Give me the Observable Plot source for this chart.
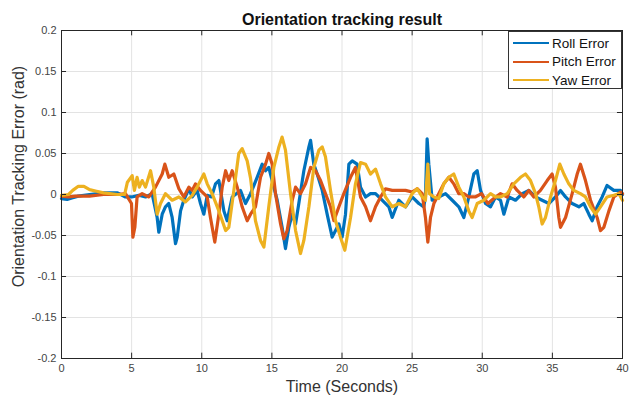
<!DOCTYPE html>
<html>
<head>
<meta charset="utf-8">
<script src="https://cdn.jsdelivr.net/npm/d3@7"></script>
<script src="https://cdn.jsdelivr.net/npm/@observablehq/plot@0.6"></script>
<style>
  body { margin: 0; background: white; }
  #wrap { position: relative; width: 630px; height: 402px; font-family: "Liberation Sans", Arial, sans-serif; }
  #legend { position: absolute; left: 508px; top: 31px; width: 114px; height: 58px; border: 1px solid #333; background: white; box-sizing: border-box; }
  .item { position: absolute; left: 4px; height: 18px; display: flex; align-items: center; font-size: 13.5px; color: #111; }
  .item span.sw { display: inline-block; width: 36px; height: 2px; margin-right: 3px; }
</style>
</head>
<body>
<div id="wrap"></div>
<script>
const title = "Orientation tracking result";
const xLabel = "Time (Seconds)";
const yLabel = "Orientation Tracking Error (rad)";
const xTicks = [0, 5, 10, 15, 20, 25, 30, 35, 40];
const yTicks = [-0.2, -0.15, -0.1, -0.05, 0, 0.05, 0.1, 0.15, 0.2];
const seriesNames = ["Roll Error", "Pitch Error", "Yaw Error"];
const seriesColors = ["#0072BD", "#D95319", "#EDB120"];

// [time (s), error (rad)]
const roll = [[0,-0.005],[0.4,-0.006],[0.8,-0.004],[1.2,-0.002],[2.0,0.0],[3.0,0.002],[4.0,0.002],[4.56,-0.003],[5.0,-0.003],[5.51,-0.001],[5.99,-0.003],[6.46,0.001],[6.82,-0.028],[6.94,-0.046],[7.18,-0.024],[7.41,-0.015],[7.65,-0.011],[7.89,-0.028],[8.13,-0.06],[8.25,-0.052],[8.49,-0.02],[8.72,-0.007],[9.08,0.007],[9.32,-0.003],[9.67,0.005],[9.91,-0.011],[10.15,-0.024],[10.39,-0.001],[10.7,-0.003],[10.98,0.013],[11.22,0.017],[11.58,-0.02],[11.81,-0.032],[12.17,-0.003],[12.76,0.005],[13.12,-0.011],[13.48,0.001],[13.95,0.021],[14.31,0.037],[14.55,0.029],[14.78,0.033],[15.02,0.017],[15.38,-0.007],[15.73,-0.04],[15.97,-0.066],[16.21,-0.04],[16.45,-0.024],[16.69,-0.036],[16.92,-0.011],[17.28,0.029],[17.64,0.058],[17.76,0.066],[17.99,0.037],[18.23,0.025],[18.59,0.005],[18.94,-0.024],[19.3,-0.052],[19.54,-0.044],[19.78,-0.036],[20.01,-0.052],[20.25,-0.024],[20.49,0.037],[20.73,0.041],[21.08,0.037],[21.32,0.009],[21.68,-0.003],[22.03,0.001],[22.39,0.001],[22.86,-0.007],[23.34,-0.015],[23.58,-0.028],[24.05,-0.007],[24.53,-0.015],[25.0,-0.003],[25.48,-0.011],[25.83,-0.015],[25.95,-0.003],[26.07,0.068],[26.19,0.037],[26.43,-0.007],[26.9,-0.003],[27.38,0.001],[27.86,-0.007],[28.33,-0.015],[28.69,-0.028],[29.04,-0.003],[29.4,0.025],[29.64,0.029],[29.88,0.005],[30.23,-0.011],[30.59,-0.015],[30.95,-0.003],[31.3,-0.007],[31.54,-0.024],[31.9,-0.003],[32.37,-0.007],[32.85,0.001],[33.32,0.005],[33.8,-0.003],[34.27,-0.007],[34.75,-0.011],[35.22,-0.003],[35.58,0.005],[35.94,-0.003],[36.41,-0.011],[36.89,-0.015],[37.24,-0.011],[37.6,-0.024],[37.84,-0.032],[38.19,-0.015],[38.55,-0.003],[38.9,0.011],[39.38,0.005],[39.86,0.005],[40,0.0]];

const pitch = [[0,-0.002],[0.5,-0.003],[1,-0.002],[2,-0.002],[3,0],[4,0],[4.56,0.001],[4.99,-0.011],[5.09,-0.052],[5.23,-0.04],[5.39,-0.003],[5.75,0.001],[6.23,-0.003],[6.7,0.009],[7.18,0.025],[7.37,0.037],[7.65,0.021],[8.01,0.025],[8.37,0.007],[8.72,-0.003],[9.08,0.009],[9.32,0.005],[9.55,0.013],[9.91,0.005],[10.39,-0.003],[10.62,-0.028],[10.93,-0.058],[11.22,-0.024],[11.46,0.009],[11.7,0.029],[11.93,0.017],[12.17,0.029],[12.53,0.009],[12.88,-0.015],[13.24,-0.032],[13.48,-0.024],[13.83,-0.015],[14.19,0.021],[14.55,0.037],[14.78,0.05],[15.02,0.037],[15.26,0.001],[15.62,-0.036],[15.85,-0.054],[16.09,-0.044],[16.45,-0.007],[16.69,0.009],[17.04,0.001],[17.4,0.013],[17.76,0.033],[18.11,0.029],[18.47,0.017],[18.82,0.001],[19.18,-0.015],[19.42,-0.032],[19.78,-0.015],[20.13,0.001],[20.61,0.021],[20.96,0.033],[21.32,-0.003],[21.68,-0.015],[22.03,-0.032],[22.39,-0.015],[22.75,-0.003],[23.1,0.007],[23.58,0.005],[24.05,0.005],[24.53,0.005],[25.0,0.003],[25.36,0.007],[25.72,0.001],[25.95,-0.028],[26.12,-0.058],[26.31,-0.028],[26.55,-0.011],[26.9,0.001],[27.26,0.013],[27.62,0.021],[27.97,0.013],[28.33,0.001],[28.69,0.001],[29.04,-0.003],[29.5,-0.003],[29.95,0.001],[30.4,-0.011],[30.95,-0.003],[31.3,0.001],[31.78,-0.003],[32.13,0.013],[32.49,0.005],[32.96,-0.003],[33.32,0.005],[33.68,-0.003],[34.15,0.005],[34.63,0.017],[34.98,0.025],[35.22,0.009],[35.46,-0.028],[35.58,-0.04],[35.94,-0.028],[36.41,0.001],[36.77,0.025],[37.0,0.037],[37.36,0.017],[37.72,-0.007],[38.19,-0.028],[38.43,-0.044],[38.67,-0.04],[39.03,-0.02],[39.38,-0.003],[39.86,0.003],[40,0.001]];

const yaw = [[0,-0.001],[0.5,0],[0.8,0.005],[1.2,0.01],[1.6,0.01],[2.0,0.006],[2.5,0.004],[3.0,0.002],[4.0,0],[4.5,0.0],[4.7,0.015],[5.04,0.023],[5.2,0.005],[5.39,0.021],[5.55,0.009],[5.75,0.017],[5.99,0.009],[6.35,0.029],[6.58,0.009],[6.82,-0.024],[7.06,-0.011],[7.41,0.001],[7.89,-0.007],[8.37,-0.003],[8.84,-0.009],[9.32,-0.001],[9.67,0.009],[10.15,0.025],[10.39,0.013],[10.74,0.001],[11.22,-0.02],[11.7,-0.044],[11.93,-0.04],[12.29,0.005],[12.64,0.05],[12.88,0.056],[13.24,0.041],[13.48,0.02],[13.83,-0.032],[14.19,-0.056],[14.43,-0.064],[14.78,-0.015],[15.14,0.033],[15.5,0.058],[15.73,0.07],[15.97,0.054],[16.33,0.001],[16.69,-0.044],[17.04,-0.072],[17.28,-0.056],[17.64,-0.015],[17.99,0.033],[18.35,0.054],[18.59,0.058],[18.82,0.046],[19.18,0.005],[19.54,-0.032],[19.89,-0.052],[20.2,-0.068],[20.61,-0.028],[20.96,0.013],[21.32,0.039],[21.68,0.037],[22.03,0.025],[22.39,0.031],[22.75,0.013],[23.1,-0.003],[23.58,-0.015],[24.05,-0.011],[24.53,-0.015],[25.0,0.001],[25.36,0.007],[25.72,-0.003],[25.95,-0.007],[26.12,0.037],[26.24,0.001],[26.55,-0.003],[26.9,-0.005],[27.26,0.013],[27.62,0.021],[27.97,0.025],[28.33,0.009],[28.69,-0.003],[29.04,-0.02],[29.28,-0.028],[29.64,-0.011],[30.11,-0.007],[30.59,0.001],[30.95,-0.003],[31.3,-0.003],[31.78,0.001],[32.25,0.013],[32.73,0.021],[33.08,0.025],[33.44,0.017],[33.8,0.001],[34.03,-0.015],[34.27,-0.036],[34.51,-0.028],[34.87,-0.003],[35.22,0.017],[35.53,0.037],[35.82,0.025],[36.17,0.013],[36.53,0.005],[37.0,0.001],[37.36,-0.003],[37.72,-0.015],[38.07,-0.024],[38.43,-0.015],[38.9,-0.003],[39.38,-0.001],[39.74,0.001],[40,-0.007]];

const data = [roll, pitch, yaw].map(s => s.map(([t, v]) => ({t, v})));

const tickLenX = 0.0065; // in y units (~5px)
const tickLenY = 0.36;   // in x units (~5px)

const chart = Plot.plot({
  width: 630,
  height: 402,
  marginTop: 30,
  marginBottom: 44,
  marginLeft: 61,
  marginRight: 8,
  x: {domain: [0, 40]},
  y: {domain: [-0.2, 0.2]},
  style: {fontFamily: '"Liberation Sans", Arial, sans-serif', background: "white", color: "#333", overflow: "visible"},
  marks: [
    Plot.gridX(xTicks, {stroke: "#e3e3e3", strokeOpacity: 1}),
    Plot.gridY(yTicks, {stroke: "#e3e3e3", strokeOpacity: 1}),
    ...data.map((d, i) => Plot.line(d, {x: "t", y: "v", stroke: seriesColors[i], strokeWidth: 3.2, strokeLinejoin: "round"})),
    Plot.frame({stroke: "#262626", strokeWidth: 1}),
    Plot.ruleX(xTicks, {y1: -0.2, y2: -0.2 + tickLenX, stroke: "#262626"}),
    Plot.ruleX(xTicks, {y1: 0.2, y2: 0.2 - tickLenX, stroke: "#262626"}),
    Plot.ruleY(yTicks, {x1: 0, x2: tickLenY, stroke: "#262626"}),
    Plot.ruleY(yTicks, {x1: 40, x2: 40 - tickLenY, stroke: "#262626"}),
    Plot.axisX(xTicks, {tickSize: 0, tickPadding: 6, fontSize: 11, label: null, tickFormat: d => String(d), fill: "#444"}),
    Plot.axisY(yTicks, {tickSize: 0, tickPadding: 5, fontSize: 11, label: null, tickFormat: d => String(d), fill: "#444"}),
    Plot.text([title], {frameAnchor: "top", dy: -17, fontSize: 16, fontWeight: "bold", fill: "#111"}),
    Plot.text([xLabel], {frameAnchor: "bottom", dy: 33, fontSize: 16, fill: "#333"}),
    Plot.text([yLabel], {frameAnchor: "left", textAnchor: "middle", dx: -43, dy: -18, rotate: -90, fontSize: 16, fill: "#333"})
  ]
});

const wrap = document.getElementById("wrap");
wrap.appendChild(chart);
const legend = document.createElement("div");
legend.id = "legend";
seriesNames.forEach((name, i) => {
  const it = document.createElement("div");
  it.className = "item";
  it.style.top = (2 + i * 18.5) + "px";
  it.innerHTML = `<span class="sw" style="background:${seriesColors[i]}"></span>${name}`;
  legend.appendChild(it);
});
wrap.appendChild(legend);
</script>
</body>
</html>
